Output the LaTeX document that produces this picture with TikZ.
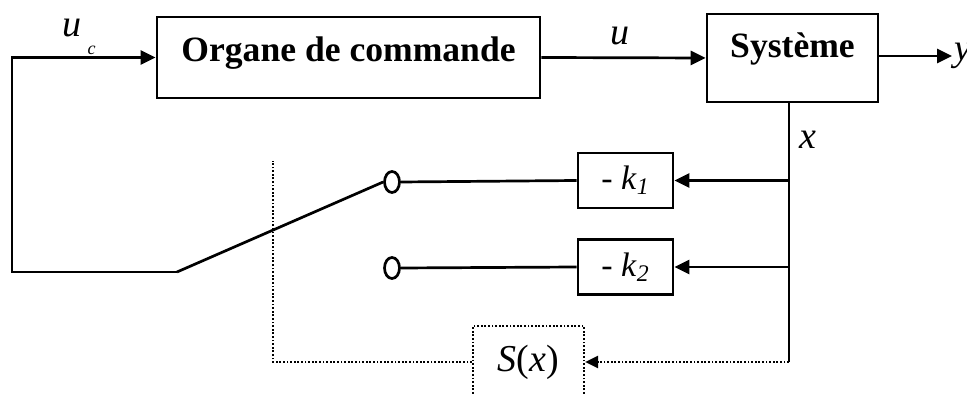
\documentclass[tikz,border=0pt]{standalone}
\usepackage{fontspec}
\setmainfont{Liberation Serif}[ItalicFont={Liberation Serif Italic},BoldFont={Liberation Serif Bold},BoldItalicFont={Liberation Serif Bold Italic}]
\usetikzlibrary{arrows.meta,shapes.geometric}
\tikzset{
  blk/.style={draw, line width=1.35pt, inner sep=0pt, align=center},
  bigtxt/.style={font=\bfseries\fontsize{17.8}{20}\selectfont},
  gain/.style={blk, minimum width=47.5pt, minimum height=27.5pt, font=\fontsize{17}{19}\selectfont},
  sw/.style={draw, ellipse, line width=1.35pt, minimum width=7.5pt, minimum height=10.5pt, inner sep=0pt},
  wire/.style={line width=1.35pt},
  arr/.style={wire, -{Triangle[length=7.5pt,width=7pt]}},
  dotl/.style={line width=1.1pt, dash pattern=on 0.9pt off 0.9pt},
  lbl/.style={font=\fontsize{19}{21}\selectfont\itshape, inner sep=0pt}
}
\begin{document}
\begin{tikzpicture}[x=0.5pt,y=-0.5pt]
\clip (0,0) rectangle (967,394);
\useasboundingbox (0,0) rectangle (967,394);
% blocks
\node[blk, bigtxt, minimum width=191.5pt, minimum height=40.5pt, text height=12pt, text depth=7.5pt] (org) at (348.5,57.5) {Organe de commande};
\node[blk, bigtxt, minimum width=85.5pt, minimum height=44pt, text height=12pt, text depth=12pt] (sys) at (792.5,58) {Système};
\node[gain] (k1) at (625.5,180.5) {- \textit{k}\textsubscript{\textit{1}}};
\node[gain] (k2) at (625.5,267) {- \textit{k}\textsubscript{\textit{2}}};
\node[draw, dotl, minimum width=55.5pt, minimum height=36pt, inner sep=0pt, font=\fontsize{19}{21}\selectfont] (S) at (528.5,362) {\textit{S}(\textit{x})};
% switch contacts
\node[sw] (c1) at (392,182) {};
\node[sw] (c2) at (392,268) {};
% coordinates
\coordinate (piv) at (177,272);
\coordinate (corner) at (12,272);
\coordinate (fb) at (789,362);
\coordinate (dtop) at (273,161);
\coordinate (yout) at (952,56);
% forward path
\draw[arr] (piv) -- (corner) |- (org.west);
\draw[arr] (org.east) -- (sys.west);
\draw[arr] (sys.east |- yout) -- (yout);
% switch
\draw[wire] (piv) -- (c1.west);
\draw[wire] (c1.east) -- (k1.west);
\draw[wire] (c2.east) -- (k2.west);
% feedback
\draw[wire] (sys.south -| fb) -- (fb);
\draw[arr] (k1.east -| fb) -- (k1.east);
\draw[arr] (k2.east -| fb) -- (k2.east);
\draw[dotl, -{Triangle[length=6.5pt,width=6pt]}] (fb) -- (S.east);
\draw[dotl] (S.west) -| (dtop);
% labels
\node[lbl] (luc) at (79,37) {u\hspace{3pt}\raisebox{-9pt}{\fontsize{9}{10}\selectfont c}};
\node[lbl] (lu) at (620,36) {u};
\node[lbl] (lx) at (808,140) {x};
\node[lbl, anchor=west] (ly) at (yout) {\kern1pt y};
\end{tikzpicture}
\end{document}
